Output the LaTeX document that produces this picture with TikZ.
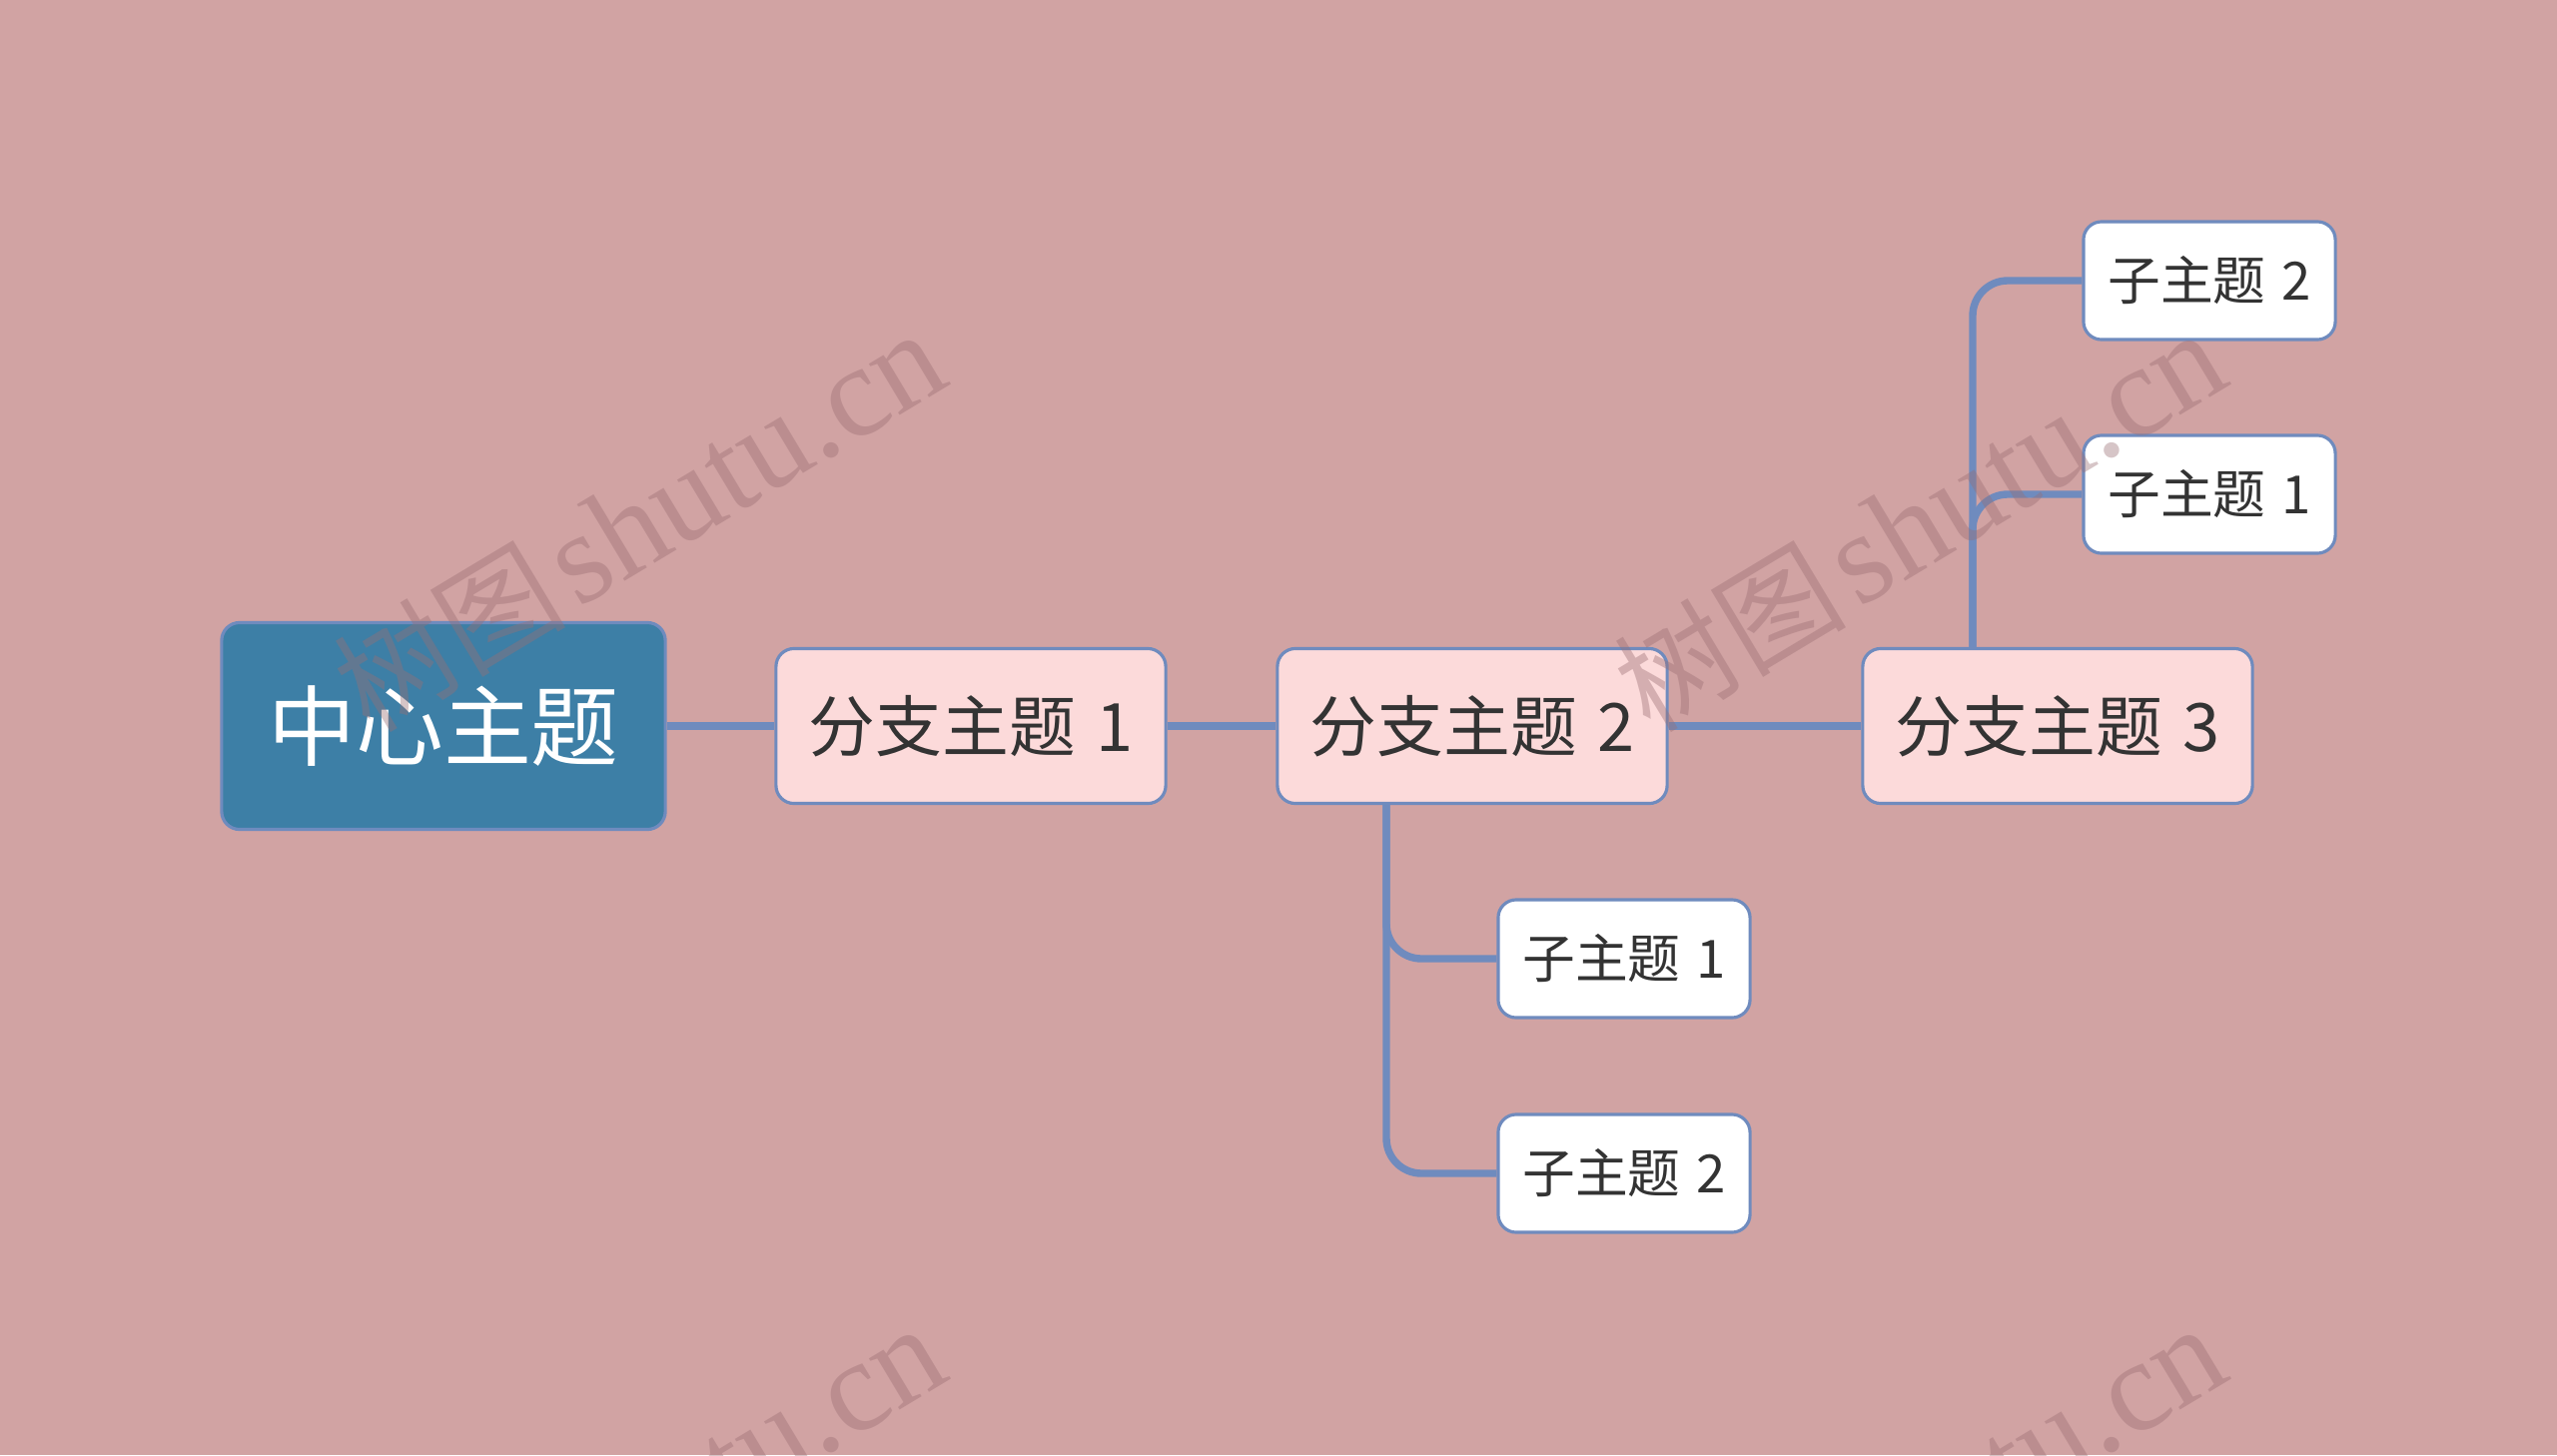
\documentclass[tikz,border=0pt]{standalone}
\usepackage{fontspec}
\usepackage{tikz}
\usepackage{xcolor}
\newfontfamily\cjk{Noto Sans CJK SC}
\newfontfamily\wmserif{Liberation Serif}
\definecolor{bgpink}{HTML}{D1A3A3}
\definecolor{linkblue}{HTML}{6F8BBE}
\definecolor{rootblue}{HTML}{3D7FA6}
\definecolor{branchpink}{HTML}{FCDADA}
\definecolor{textdark}{HTML}{333333}
\definecolor{wmark}{HTML}{9A6E73}
\tikzset{
  topic/.style={draw=linkblue,line width=0.9pt,rounded corners=0.18cm,align=center,inner sep=0pt,font=\cjk},
  roottopic/.style={topic,fill=rootblue,text=white,minimum width=4.44cm,minimum height=2.07cm,font=\cjk\fontsize{25}{30}\selectfont},
  branchtopic/.style={topic,fill=branchpink,text=textdark,minimum width=3.9cm,minimum height=1.55cm,font=\cjk\fontsize{19}{23}\selectfont},
  subtopic/.style={topic,fill=white,text=textdark,minimum width=2.52cm,minimum height=1.18cm,font=\cjk\fontsize{15}{18}\selectfont},
  link/.style={draw=linkblue,line width=2.1pt},
  watermark/.style={text=wmark,text opacity=0.4,rotate=31,inner sep=0pt}
}
\begin{document}
\begin{tikzpicture}[x=0.01cm,y=-0.01cm]
\fill[bgpink] (0,0) rectangle (2560,1457);
\useasboundingbox (0,0) rectangle (2560,1457);
% topics
\node[roottopic] (root) at (444,727) {中心主题};
\node[branchtopic] (b1) at (972,727) {分支主题\hspace{0.3em}1};
\node[branchtopic] (b2) at (1474,727) {分支主题\hspace{0.3em}2};
\node[branchtopic] (b3) at (2060,727) {分支主题\hspace{0.3em}3};
\node[subtopic] (b2s1) at (1626,960) {子主题\hspace{0.3em}1};
\node[subtopic] (b2s2) at (1626,1175) {子主题\hspace{0.3em}2};
\node[subtopic] (b3s1) at (2212,495) {子主题\hspace{0.3em}1};
\node[subtopic] (b3s2) at (2212,281) {子主题\hspace{0.3em}2};
% connectors
\draw[link] (root.east)--(b1.west);\draw[link] (b1.east)--(b2.west);\draw[link] (b2.east)--(b3.west);
\coordinate (b2foot) at (1388,806);\coordinate (b3top) at (1975,648);
\draw[link,rounded corners=0.35cm] (b2foot) |- (b2s1.west);
\draw[link,rounded corners=0.35cm] (b2foot) |- (b2s2.west);
\draw[link,rounded corners=0.35cm] (b3top) |- (b3s1.west);
\draw[link,rounded corners=0.35cm] (b3top) |- (b3s2.west);
% watermarks
\begin{scope}
\clip (0,0) rectangle (2560,1457);
\foreach \wx/\wy in {640/522,1922/522,640/1518,1922/1518} {\node[watermark] (wm) at (\wx,\wy) {{\cjk\fontsize{33}{36}\selectfont 树图} {\wmserif\fontsize{37}{40}\selectfont shutu.cn}};}
\end{scope}
\end{tikzpicture}
\end{document}
